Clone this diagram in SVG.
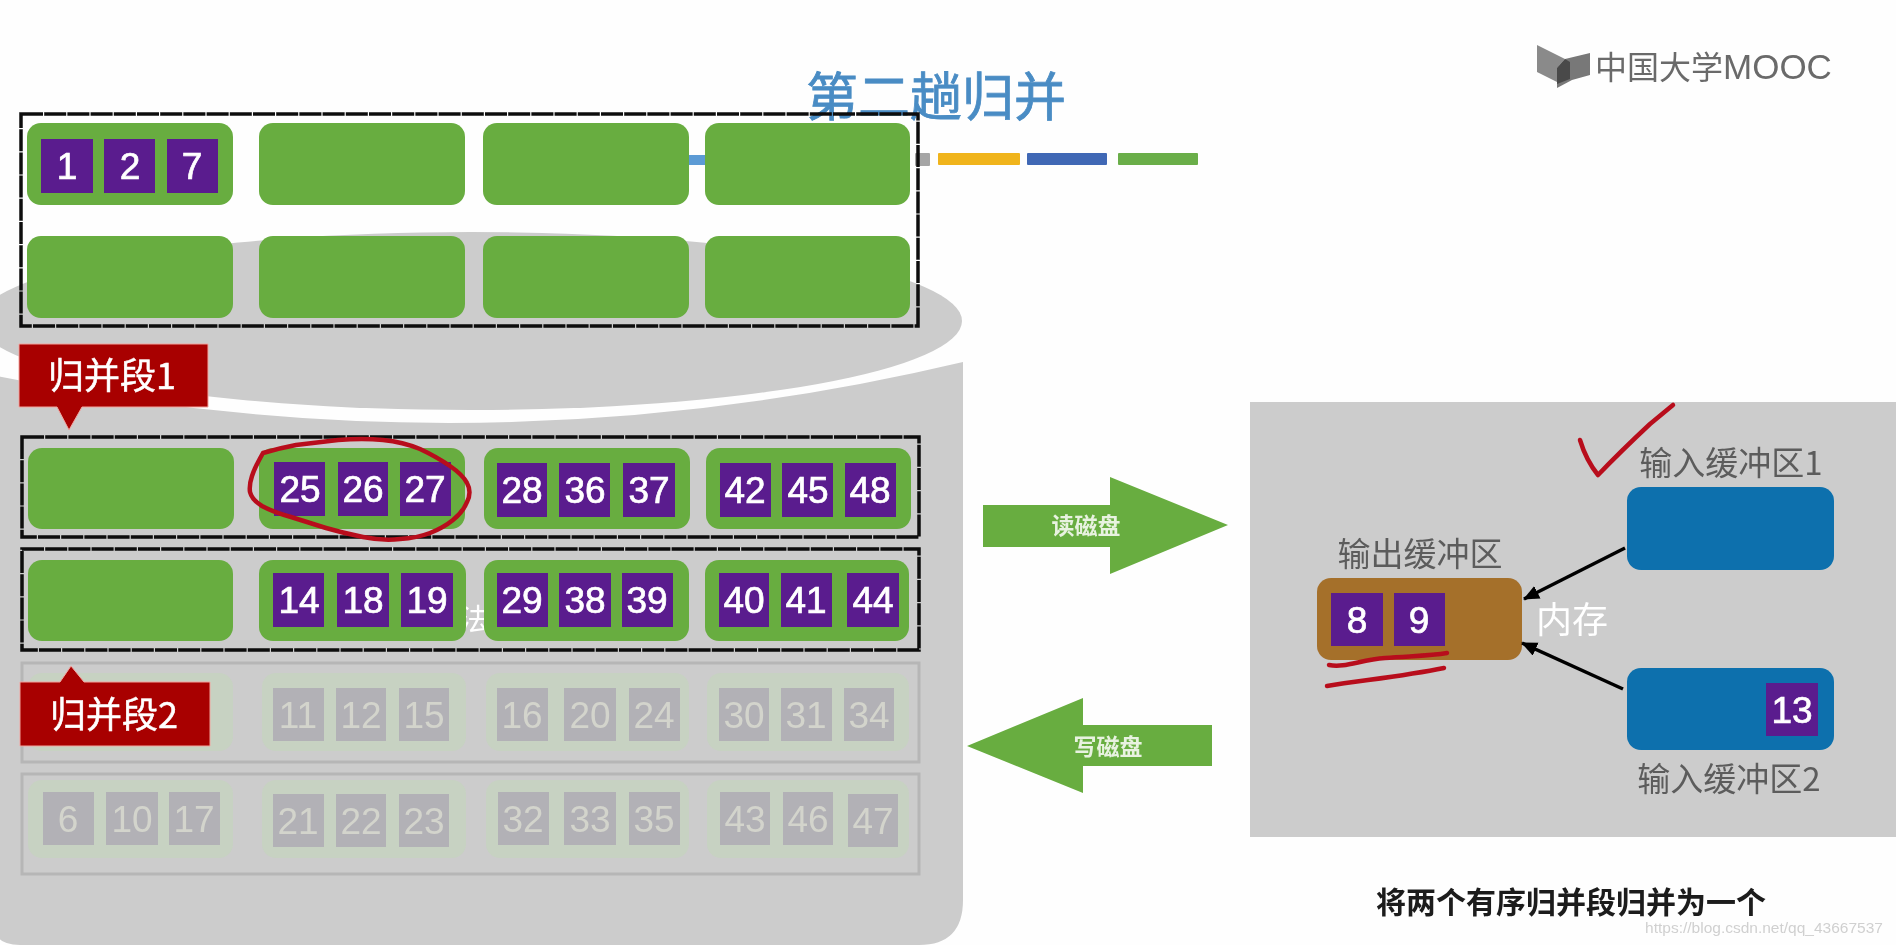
<svg xmlns="http://www.w3.org/2000/svg" width="1896" height="945" viewBox="0 0 1896 945">
<style>
text{font-family:"Liberation Sans","Noto Sans CJK SC",sans-serif;text-anchor:middle}
.cjk{font-family:"Noto Sans CJK SC","Liberation Sans",sans-serif}
.g{fill:#68ad40}.fg{fill:#c7d2c2}
.s{fill:#5a1a8e}.fs{fill:#b2b1b6}
.n{fill:#fff;font-size:37px;stroke:#fff;stroke-width:.7}
.fn{fill:#d3d4cc;font-size:37px}
.box{fill:none;stroke:#0b0b0b;stroke-width:3.5;stroke-dasharray:22 1.2}
.fbox{fill:none;stroke:#b6b6b6;stroke-width:3}
.red{fill:#a80000;stroke:#f2a5a0;stroke-width:1}
.lab{fill:#fff;font-size:36px;stroke:#fff;stroke-width:.5}
.cap{fill:#5c5c5c;font-size:33px}
.ink{fill:none;stroke:#b80f1c;stroke-width:4.5;stroke-linecap:round;stroke-linejoin:round}
.ar{fill:#68ad40}
.art{fill:#e8f2e0;font-size:23px;font-weight:700}
.blue{fill:#0b70ad}
.con{stroke:#000;stroke-width:3.5;fill:none;marker-end:url(#ah)}
</style>
<defs>
<marker id="ah" markerWidth="20" markerHeight="16" refX="15" refY="7" orient="auto" markerUnits="userSpaceOnUse"><path d="M0 0L16 7L0 14z" fill="#000"/></marker>
<filter id="soft" filterUnits="userSpaceOnUse" x="0" y="0" width="1896" height="945"><feGaussianBlur stdDeviation="0.6"/></filter>
</defs>
<rect width="1896" height="945" fill="#fefefe"/>
<g filter="url(#soft)">
<g id="disk">
<path d="M-8 375Q478 477 963 362V900Q963 945 919 945H20Q-8 945 -8 920z" fill="#cccccc"/>
<ellipse cx="470" cy="321" rx="492" ry="89" fill="#cccccc"/>
</g>
<g id="legend">
<rect x="689" y="155" width="20" height="10" fill="#5b9bd5"/>
<rect x="915" y="153" width="15" height="13" rx="1" fill="#a5a5a5"/>
<rect x="938" y="153" width="82" height="12" rx="1" fill="#f0b41e"/>
<rect x="1027" y="153" width="80" height="12" rx="1" fill="#3f68b5"/>
<rect x="1118" y="153" width="80" height="12" rx="1" fill="#6aae48"/>
</g>
<g id="title"><text class="cjk" x="936" y="116" font-size="52" fill="#4a8cc4" stroke="#4a8cc4" stroke-width=".8">第二趟归并</text></g>
<g id="logo">
<path d="M1537 45L1565 59L1557 68V82L1537 72z" fill="#8a8a8a"/>
<path d="M1565 59L1590 53V75L1572 80L1557 88V68z" fill="#787878"/>
<path d="M1557 68L1565 59L1570 62V79L1557 84z" fill="#4a4a4a"/>
<text class="cjk" x="1595" y="79" font-size="32" fill="#6a6a6a" style="text-anchor:start">中国大学<tspan font-family="Liberation Sans" font-size="35">MOOC</tspan></text>
</g>
<text class="cjk" id="hidden-mark" x="474" y="630" font-size="30" fill="#fff">法</text>
<g id="seg-1a">
<rect class="g" x="27" y="123" width="206" height="82" rx="14"/><rect class="g" x="259" y="123" width="206" height="82" rx="14"/><rect class="g" x="483" y="123" width="206" height="82" rx="14"/><rect class="g" x="705" y="123" width="205" height="82" rx="14"/>
<rect class="s" x="41" y="139" width="52" height="54"/><text class="n" x="67" y="179">1</text>
<rect class="s" x="104" y="139" width="51" height="54"/><text class="n" x="130" y="179">2</text>
<rect class="s" x="167" y="139" width="51" height="54"/><text class="n" x="192" y="179">7</text>
<rect class="box" x="21" y="114" width="897" height="212"/>
</g>
<g id="seg-1b">
<rect class="g" x="27" y="236" width="206" height="82" rx="14"/><rect class="g" x="259" y="236" width="206" height="82" rx="14"/><rect class="g" x="483" y="236" width="206" height="82" rx="14"/><rect class="g" x="705" y="236" width="205" height="82" rx="14"/>
</g>
<g id="seg-3">
<rect class="g" x="28" y="448" width="206" height="81" rx="14"/><rect class="g" x="259" y="448" width="206" height="81" rx="14"/><rect class="g" x="484" y="448" width="206" height="81" rx="14"/><rect class="g" x="706" y="448" width="205" height="81" rx="14"/>
<rect class="s" x="274" y="462" width="51" height="54"/><text class="n" x="300" y="502">25</text>
<rect class="s" x="338" y="462" width="50" height="54"/><text class="n" x="363" y="502">26</text>
<rect class="s" x="400" y="462" width="51" height="54"/><text class="n" x="425" y="502">27</text>
<rect class="s" x="497" y="463" width="50" height="54"/><text class="n" x="522" y="503">28</text>
<rect class="s" x="559" y="463" width="51" height="54"/><text class="n" x="585" y="503">36</text>
<rect class="s" x="623" y="463" width="52" height="54"/><text class="n" x="649" y="503">37</text>
<rect class="s" x="720" y="463" width="51" height="54"/><text class="n" x="745" y="503">42</text>
<rect class="s" x="782" y="463" width="51" height="54"/><text class="n" x="808" y="503">45</text>
<rect class="s" x="845" y="463" width="51" height="54"/><text class="n" x="870" y="503">48</text>
<rect class="box" x="22" y="437" width="897" height="100"/>
</g>
<g id="seg-4">
<rect class="g" x="28" y="560" width="205" height="81" rx="14"/><rect class="g" x="259" y="560" width="207" height="81" rx="14"/><rect class="g" x="484" y="560" width="205" height="81" rx="14"/><rect class="g" x="705" y="560" width="204" height="81" rx="14"/>
<rect class="s" x="273" y="573" width="51" height="54"/><text class="n" x="299" y="613">14</text>
<rect class="s" x="337" y="573" width="52" height="54"/><text class="n" x="363" y="613">18</text>
<rect class="s" x="401" y="573" width="52" height="54"/><text class="n" x="427" y="613">19</text>
<rect class="s" x="497" y="573" width="51" height="54"/><text class="n" x="522" y="613">29</text>
<rect class="s" x="559" y="573" width="52" height="54"/><text class="n" x="585" y="613">38</text>
<rect class="s" x="622" y="573" width="51" height="54"/><text class="n" x="647" y="613">39</text>
<rect class="s" x="719" y="573" width="50" height="54"/><text class="n" x="744" y="613">40</text>
<rect class="s" x="781" y="573" width="51" height="54"/><text class="n" x="806" y="613">41</text>
<rect class="s" x="847" y="573" width="52" height="54"/><text class="n" x="873" y="613">44</text>
<rect class="box" x="22" y="549" width="897" height="101"/>
</g>
<g id="seg-5">
<rect class="fg" x="28" y="673" width="205" height="78" rx="14"/><rect class="fg" x="262" y="673" width="204" height="78" rx="14"/><rect class="fg" x="486" y="673" width="203" height="78" rx="14"/><rect class="fg" x="707" y="673" width="202" height="78" rx="14"/>
<rect class="fs" x="273" y="688" width="51" height="53"/><text class="fn" x="298" y="728">11</text>
<rect class="fs" x="336" y="688" width="50" height="53"/><text class="fn" x="361" y="728">12</text>
<rect class="fs" x="399" y="688" width="50" height="53"/><text class="fn" x="424" y="728">15</text>
<rect class="fs" x="497" y="688" width="51" height="53"/><text class="fn" x="522" y="728">16</text>
<rect class="fs" x="564" y="688" width="52" height="53"/><text class="fn" x="590" y="728">20</text>
<rect class="fs" x="629" y="688" width="51" height="53"/><text class="fn" x="654" y="728">24</text>
<rect class="fs" x="719" y="688" width="50" height="53"/><text class="fn" x="744" y="728">30</text>
<rect class="fs" x="781" y="688" width="51" height="53"/><text class="fn" x="806" y="728">31</text>
<rect class="fs" x="844" y="688" width="50" height="53"/><text class="fn" x="869" y="728">34</text>
<rect class="fbox" x="22" y="663" width="897" height="99"/>
</g>
<g id="seg-6">
<rect class="fg" x="28" y="780" width="205" height="78" rx="14"/><rect class="fg" x="262" y="780" width="204" height="78" rx="14"/><rect class="fg" x="486" y="780" width="203" height="78" rx="14"/><rect class="fg" x="707" y="780" width="202" height="78" rx="14"/>
<rect class="fs" x="43" y="792" width="51" height="53"/><text class="fn" x="68" y="832">6</text>
<rect class="fs" x="106" y="792" width="52" height="53"/><text class="fn" x="132" y="832">10</text>
<rect class="fs" x="169" y="792" width="51" height="53"/><text class="fn" x="194" y="832">17</text>
<rect class="fs" x="273" y="794" width="51" height="53"/><text class="fn" x="298" y="834">21</text>
<rect class="fs" x="336" y="794" width="50" height="53"/><text class="fn" x="361" y="834">22</text>
<rect class="fs" x="399" y="794" width="50" height="53"/><text class="fn" x="424" y="834">23</text>
<rect class="fs" x="498" y="792" width="51" height="53"/><text class="fn" x="523" y="832">32</text>
<rect class="fs" x="564" y="792" width="52" height="53"/><text class="fn" x="590" y="832">33</text>
<rect class="fs" x="629" y="792" width="51" height="53"/><text class="fn" x="654" y="832">35</text>
<rect class="fs" x="720" y="792" width="50" height="53"/><text class="fn" x="745" y="832">43</text>
<rect class="fs" x="783" y="792" width="50" height="53"/><text class="fn" x="808" y="832">46</text>
<rect class="fs" x="848" y="794" width="50" height="53"/><text class="fn" x="873" y="834">47</text>
<rect class="fbox" x="22" y="774" width="897" height="100"/>
</g>
<g id="label-1"><path class="red" d="M19 344H208V407H82L69 430L57 407H19z"/><text class="cjk lab" x="112" y="389">归并段1</text></g>
<g id="label-2"><path class="red" d="M20 682H60L71 666L84 682H210V746H20z"/><text class="cjk lab" x="114" y="728">归并段2</text></g>
<g id="read-arrow"><path class="ar" d="M983 505H1110V477L1228 525L1110 574V547H983z"/><text class="cjk art" x="1086" y="534">读磁盘</text></g>
<g id="write-arrow"><path class="ar" d="M967 746L1083 698V725H1212V766H1083V793z"/><text class="cjk art" x="1108" y="755">写磁盘</text></g>
<g id="memory">
<rect x="1250" y="402" width="646" height="435" fill="#cccccc"/>
<text class="cjk" x="1572" y="633" font-size="36" fill="#fff">内存</text>
</g>
<g id="input-1"><rect class="blue" x="1627" y="487" width="207" height="83" rx="14"/><text class="cjk cap" x="1731" y="475">输入缓冲区1</text></g>
<g id="input-2"><rect class="blue" x="1627" y="668" width="207" height="82" rx="14"/><rect class="s" x="1766" y="683" width="52" height="53"/><text class="n" x="1792" y="723">13</text><text class="cjk cap" x="1729" y="791">输入缓冲区2</text></g>
<g id="output"><rect x="1317" y="578" width="205" height="82" rx="14" fill="#a5702c"/><rect class="s" x="1331" y="593" width="52" height="53"/><text class="n" x="1357" y="633">8</text><rect class="s" x="1394" y="593" width="51" height="53"/><text class="n" x="1419" y="633">9</text><text class="cjk cap" x="1420" y="566">输出缓冲区</text></g>
<g id="connectors">
<path class="con" d="M1625 548L1524 599"/>
<path class="con" d="M1623 689L1522 643"/>
</g>
<g id="ink">
<path class="ink" d="M263 453Q280 448 296 445Q313 443 338 440Q363 438 383 440Q403 442 420 449Q437 457 450 466Q463 475 467 483Q472 492 467 502Q463 512 453 520Q443 528 430 533Q417 538 400 539Q383 541 363 537Q343 533 326 528Q310 523 291 517Q273 512 262 506Q252 500 250 492Q249 485 252 476Q255 467 263 453"/>
<path class="ink" d="M1580 440Q1586 460 1598 475Q1620 452 1650 424L1673 405"/>
<path class="ink" d="M1329 665C1345 668 1360 660 1385 658C1410 656 1430 656 1447 653"/>
<path class="ink" d="M1327 686C1365 680 1405 676 1444 668"/>
</g>
<text id="note" class="cjk" x="1571" y="913" font-size="30" font-weight="700" fill="#1a1a1a">将两个有序归并段归并为一个</text>
<text id="watermark" x="1764" y="933" font-size="15.5" fill="#d0d0d0">https://blog.csdn.net/qq_43667537</text>
</g>
</svg>
